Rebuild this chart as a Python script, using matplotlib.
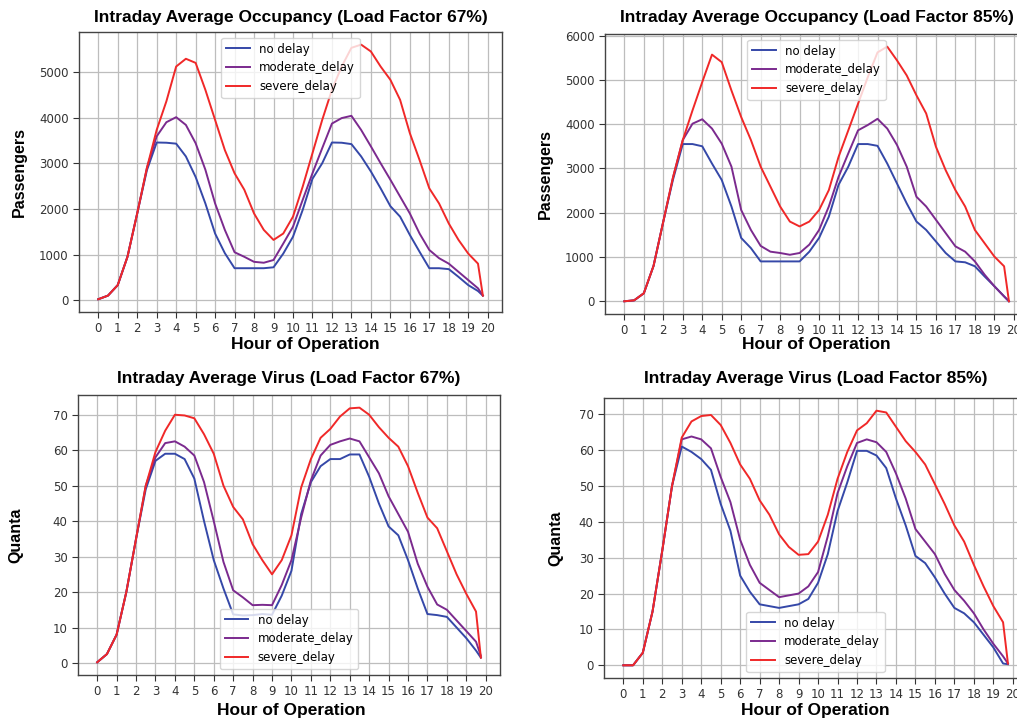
import matplotlib
matplotlib.use("Agg")
import matplotlib.pyplot as plt
import numpy as np

# hours of operation (every half hour, last sample 19.75)
hours = list(np.arange(0, 20, 0.5)) + [19.75]

# passengers, load factor 67%
occ67_none = [20, 100, 330, 950, 1900, 2850, 3455, 3450, 3430, 3150, 2700, 2120, 1460, 1030,
              700, 700, 700, 700, 720, 1020, 1390, 1980, 2660, 3000, 3455, 3450, 3420,
              3150, 2820, 2450, 2060, 1830, 1430, 1060, 700, 700, 680, 510, 330, 200, 100]
occ67_mod = [20, 100, 330, 950, 1900, 2900, 3590, 3900, 4010, 3840, 3440, 2860, 2120, 1540,
             1050, 950, 840, 820, 880, 1240, 1610, 2200, 2780, 3330, 3870, 3990, 4040, 3730,
             3370, 3000, 2640, 2270, 1900, 1460, 1100, 920, 800, 620, 440, 260, 100]
occ67_sev = [20, 100, 330, 950, 1900, 2900, 3730, 4360, 5120, 5290, 5200, 4610, 3950, 3290,
             2780, 2420, 1900, 1540, 1320, 1460, 1830, 2490, 3220, 3950, 4610, 5120, 5530, 5600,
             5450, 5120, 4830, 4390, 3660, 3070, 2450, 2120, 1680, 1320, 1020, 800, 100]

# passengers, load factor 85%
occ85_none = [0, 20, 180, 800, 1800, 2750, 3550, 3550, 3500, 3110, 2740, 2140, 1430, 1200,
              900, 900, 900, 900, 900, 1120, 1430, 1910, 2630, 3040, 3550, 3550, 3510, 3110,
              2660, 2210, 1800, 1610, 1350, 1090, 900, 880, 790, 560, 340, 110, 0]
occ85_mod = [0, 20, 180, 800, 1800, 2800, 3640, 4010, 4110, 3900, 3560, 3040, 2060, 1610,
             1250, 1120, 1090, 1050, 1090, 1280, 1610, 2140, 2810, 3340, 3860, 3980, 4120, 3900,
             3530, 3040, 2360, 2140, 1840, 1540, 1240, 1120, 900, 600, 340, 110, 0]
occ85_sev = [0, 20, 180, 800, 1800, 2800, 3640, 4310, 4950, 5570, 5400, 4760, 4160, 3640,
             3040, 2590, 2140, 1800, 1690, 1800, 2060, 2510, 3260, 3860, 4460, 5060, 5620, 5750,
             5440, 5100, 4650, 4240, 3490, 2960, 2510, 2140, 1610, 1310, 1010, 790, 0]

# quanta, load factor 67%
vir67_none = [0.2, 2.5, 8, 20, 35, 49, 57, 59, 59, 57.5, 52, 40, 29, 21, 13.7, 13.4, 13.5,
              13.8, 13.6, 19, 26, 42, 51, 55.5, 57.5, 57.5, 58.8, 58.8, 52.5, 45, 38.5, 36,
              29, 21, 13.8, 13.5, 13, 10, 7, 3.5, 1.5]
vir67_mod = [0.2, 2.5, 8, 20, 35, 50, 58, 62, 62.5, 61, 58.5, 51, 40, 28.5, 20.5, 18.5, 16.3,
             16.4, 16.3, 22, 29, 41, 51.5, 58.5, 61.5, 62.5, 63.3, 62.5, 58, 53.5, 47, 42,
             37, 28, 21.5, 16.5, 15, 12, 9, 6, 2]
vir67_sev = [0.2, 2.5, 8, 20, 35, 50, 59.5, 65.5, 70, 69.8, 69, 64.5, 59, 50, 44, 40.5, 33.5,
             29, 25, 29, 36, 49.5, 57.5, 63.5, 66, 69.5, 71.8, 72, 70, 66.5, 63.5, 61, 55.5,
             48, 41, 38, 31.5, 25, 19.5, 14.5, 1.5]

# quanta, load factor 85%
vir85_none = [0, 0, 3.5, 15, 32, 50, 61, 59.5, 57.5, 54.5, 45, 37.5, 25, 20.5, 17, 16.5, 16,
              16.5, 17, 18.5, 23, 31, 43, 51, 59.8, 59.8, 58.5, 55, 46.5, 39, 30.5, 28.5,
              24.5, 20, 16, 14.5, 12, 8.5, 5, 0.5, 0.3]
vir85_mod = [0, 0, 3.5, 15, 32, 50, 63, 63.8, 63, 60.5, 52.5, 45.5, 35, 28, 23, 21, 19, 19.5,
             20, 22, 26, 36, 48, 55.5, 62, 63, 62.2, 59.5, 53.5, 46.5, 38, 34.5, 31, 25.5,
             21, 18, 14.5, 10, 6, 2.5, 0.5]
vir85_sev = [0, 0, 3.5, 15, 32, 50, 63.5, 68, 69.5, 69.8, 67, 62, 56, 52, 46, 42, 36.5, 33,
             30.8, 31, 34.5, 42, 52, 59.5, 65.5, 67.5, 71, 70.5, 66.5, 62.5, 59.5, 56, 50.5,
             45, 39, 34.5, 28, 22, 16.5, 12, 0.5]

names = ["no delay", "moderate_delay", "severe_delay"]
colors = ["#3548a8", "#7b2a8e", "#f02828"]

panels = [
    # axes rect, title, ylabel, series, yticks, legend loc, ylabel x, xlabel x, xlabel y, title y
    ([0.0777, 0.5667, 0.416, 0.389], "Intraday Average Occupancy (Load Factor 67%)", "Passengers",
     [occ67_none, occ67_mod, occ67_sev], range(0, 5001, 1000), "upper center",
     -0.123, 0.535, -0.089, 1.05),
    ([0.595, 0.5639, 0.416, 0.389], "Intraday Average Occupancy (Load Factor 85%)", "Passengers",
     [occ85_none, occ85_mod, occ85_sev], range(0, 6001, 1000), "upper center",
     -0.123, 0.5, -0.082, 1.057),
    ([0.0767, 0.0625, 0.415, 0.389], "Intraday Average Virus (Load Factor 67%)", "Quanta",
     [vir67_none, vir67_mod, vir67_sev], range(0, 71, 10), "lower center",
     -0.130, 0.505, -0.1, 1.057),
    ([0.594, 0.0583, 0.416, 0.389], "Intraday Average Virus (Load Factor 85%)", "Quanta",
     [vir85_none, vir85_mod, vir85_sev], range(0, 71, 10), "lower center",
     -0.097, 0.5, -0.089, 1.068),
]

fig = plt.figure(figsize=(10.17, 7.2), dpi=100)

for rect, title, ylabel, series, yticks, loc, ylx, xlx, xly, ty in panels:
    ax = fig.add_axes(rect)
    for vals, name, c in zip(series, names, colors):
        ax.plot(hours, vals, color=c, lw=1.4, label=name)
    ax.set_xticks(range(0, 21))
    ax.set_yticks(list(yticks))
    ax.grid(True, color="#bdbdbd", lw=0.9)
    ax.set_axisbelow(True)
    ax.tick_params(labelsize=8.5, colors="#333333", length=4, width=0.8)
    for s in ax.spines.values():
        s.set_color("#444444")
        s.set_linewidth(1.0)
    ax.set_title(title, fontsize=12.5, fontweight="bold", family="Liberation Sans",
                 y=ty, va="center", pad=0)
    ax.set_xlabel("Hour of Operation", fontsize=12.5, fontweight="bold", family="Liberation Sans")
    ax.set_ylabel(ylabel, fontsize=11.5, fontweight="bold", family="Liberation Sans")
    ax.yaxis.set_label_coords(ylx, 0.5)
    ax.xaxis.set_label_coords(xlx, xly)
    ax.legend(loc=loc, fontsize=8.5)

fig.savefig("out.png", dpi=100)
